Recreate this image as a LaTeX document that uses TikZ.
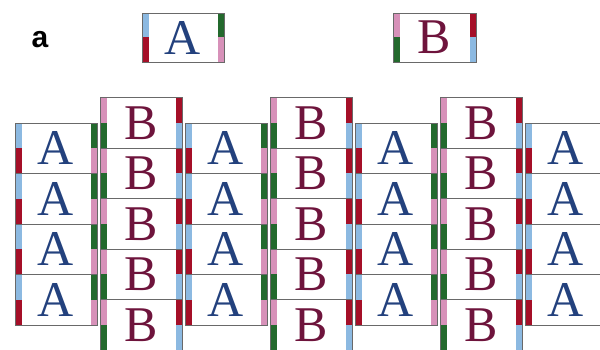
\documentclass[tikz,border=0pt]{standalone}
\usepackage{fontspec}
\setmainfont{Liberation Serif}
\newfontfamily\panelfont{Liberation Sans}
\usepackage{tikz}

\definecolor{edgeblue}{RGB}{140,185,225}
\definecolor{edgered}{RGB}{165,15,40}
\definecolor{edgegreen}{RGB}{35,105,45}
\definecolor{edgepink}{RGB}{215,145,185}
\definecolor{letA}{RGB}{35,65,125}
\definecolor{letB}{RGB}{110,20,60}
\definecolor{rim}{RGB}{105,105,105}

\begin{document}
\begin{tikzpicture}[x=1pt, y=-1pt,
  tile/.style={draw=rim, line width=0.8pt, minimum width=82pt, minimum height=50.5pt,
    inner sep=0pt, outer sep=0pt, font=\fontsize{50}{50}\selectfont},
  tileA/.style={tile, text=letA, path picture={
    \fill[edgeblue] (path picture bounding box.north west) rectangle ([xshift=6.5pt]path picture bounding box.west);
    \fill[edgered] (path picture bounding box.west) rectangle ([xshift=6.5pt]path picture bounding box.south west);
    \fill[edgegreen] ([xshift=-6.5pt]path picture bounding box.north east) rectangle (path picture bounding box.east);
    \fill[edgepink] ([xshift=-6.5pt]path picture bounding box.east) rectangle (path picture bounding box.south east);}},
  tileB/.style={tile, text=letB, path picture={
    \fill[edgepink] (path picture bounding box.north west) rectangle ([xshift=6.5pt]path picture bounding box.west);
    \fill[edgegreen] (path picture bounding box.west) rectangle ([xshift=6.5pt]path picture bounding box.south west);
    \fill[edgered] ([xshift=-6.5pt]path picture bounding box.north east) rectangle (path picture bounding box.east);
    \fill[edgeblue] ([xshift=-6.5pt]path picture bounding box.east) rectangle (path picture bounding box.south east);}}
]
\useasboundingbox (0,0) rectangle (600,350);

% Panel letter
\node[font=\panelfont\bfseries\fontsize{30}{30}\selectfont] (panel) at (40,40) {a};

% The two single tiles
\node[tileA, minimum height=49pt] (topA) at (183,37.5) {A};
\node[tileB, minimum height=49pt, minimum width=83pt] (topB) at (434.5,37.5) {B};

% Columns of A tiles
\foreach \c in {0,...,3}
  \foreach \r in {0,...,3}
    \node[tileA] (A-\c-\r) at (56+170*\c, 148.25+50.5*\r) {A};

% Columns of B tiles, half a tile higher
\foreach \c in {0,...,2}
  \foreach \r in {0,...,4}
    \node[tileB] (B-\c-\r) at (141+170*\c, 122.75+50.5*\r) {B};

\end{tikzpicture}
\end{document}
